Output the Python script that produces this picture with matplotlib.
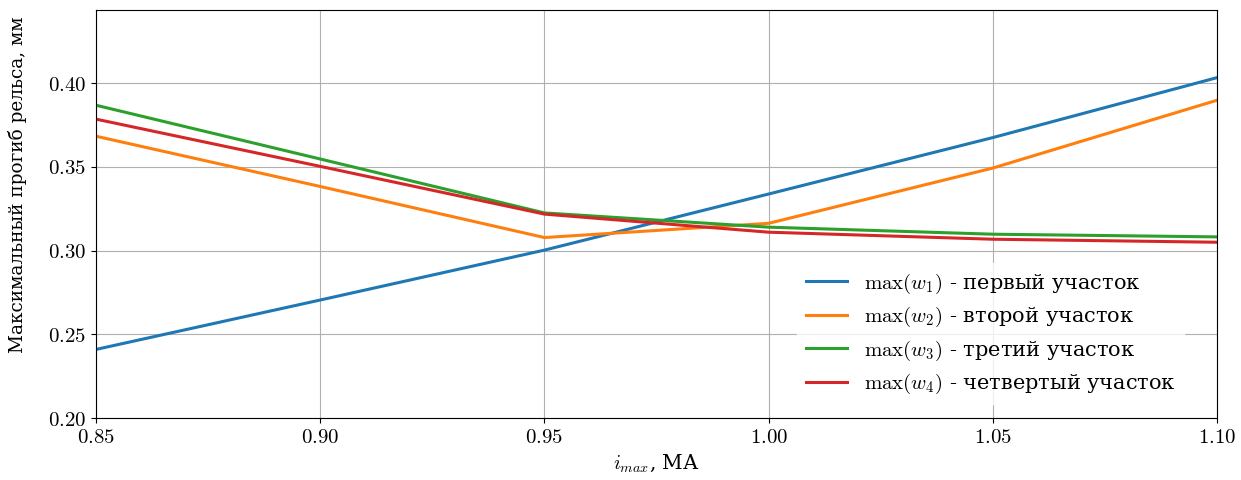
import matplotlib
matplotlib.use("Agg")
import matplotlib.pyplot as plt
from matplotlib.ticker import FuncFormatter

plt.rcParams['font.family'] = ['DejaVu Serif']
plt.rcParams['mathtext.fontset'] = 'cm'

# максимальный ток и прогибы рельса на участках
i_max = [0.85, 0.90, 0.95, 1.00, 1.05, 1.10]
w1 = [0.2410, 0.2705, 0.3003, 0.3338, 0.3675, 0.4033]
w2 = [0.3683, 0.3383, 0.3078, 0.3163, 0.3493, 0.3898]
w3 = [0.3868, 0.3547, 0.3225, 0.3140, 0.3098, 0.3082]
w4 = [0.3785, 0.3503, 0.3218, 0.3110, 0.3068, 0.3050]

labels = [
    r'$\max(w_1)$ - первый участок',
    r'$\max(w_2)$ - второй участок',
    r'$\max(w_3)$ - третий участок',
    r'$\max(w_4)$ - четвертый участок',
]

fig, ax = plt.subplots(figsize=(12.41, 4.8), dpi=100)
fig.subplots_adjust(left=0.0774, right=0.9807, top=0.979, bottom=0.129)

for w, lab in zip([w1, w2, w3, w4], labels):
    ax.plot(i_max, w, linewidth=2.2, label=lab)

ax.set_xlim(0.85, 1.10)
ax.set_ylim(0.20, 1.1 * max(w1))
ax.set_xticks([0.85, 0.90, 0.95, 1.00, 1.05, 1.10])
ax.set_yticks([0.20, 0.25, 0.30, 0.35, 0.40])
fmt = FuncFormatter(lambda v, p: f'${v:.2f}$')
ax.xaxis.set_major_formatter(fmt)
ax.yaxis.set_major_formatter(fmt)
ax.tick_params(labelsize=15)
ax.grid(True)

ax.set_xlabel(r'$i_{max}$, МА', fontsize=14.5)
ax.set_ylabel('Максимальный прогиб рельса, мм', fontsize=13.3)
ax.yaxis.set_label_coords(-0.062, 0.572)
leg = ax.legend(loc='lower right', fontsize=15, frameon=True,
                edgecolor='white', framealpha=0.8,
                bbox_to_anchor=(0.98, 0.008), labelspacing=0.45)

fig.savefig('out.png')
